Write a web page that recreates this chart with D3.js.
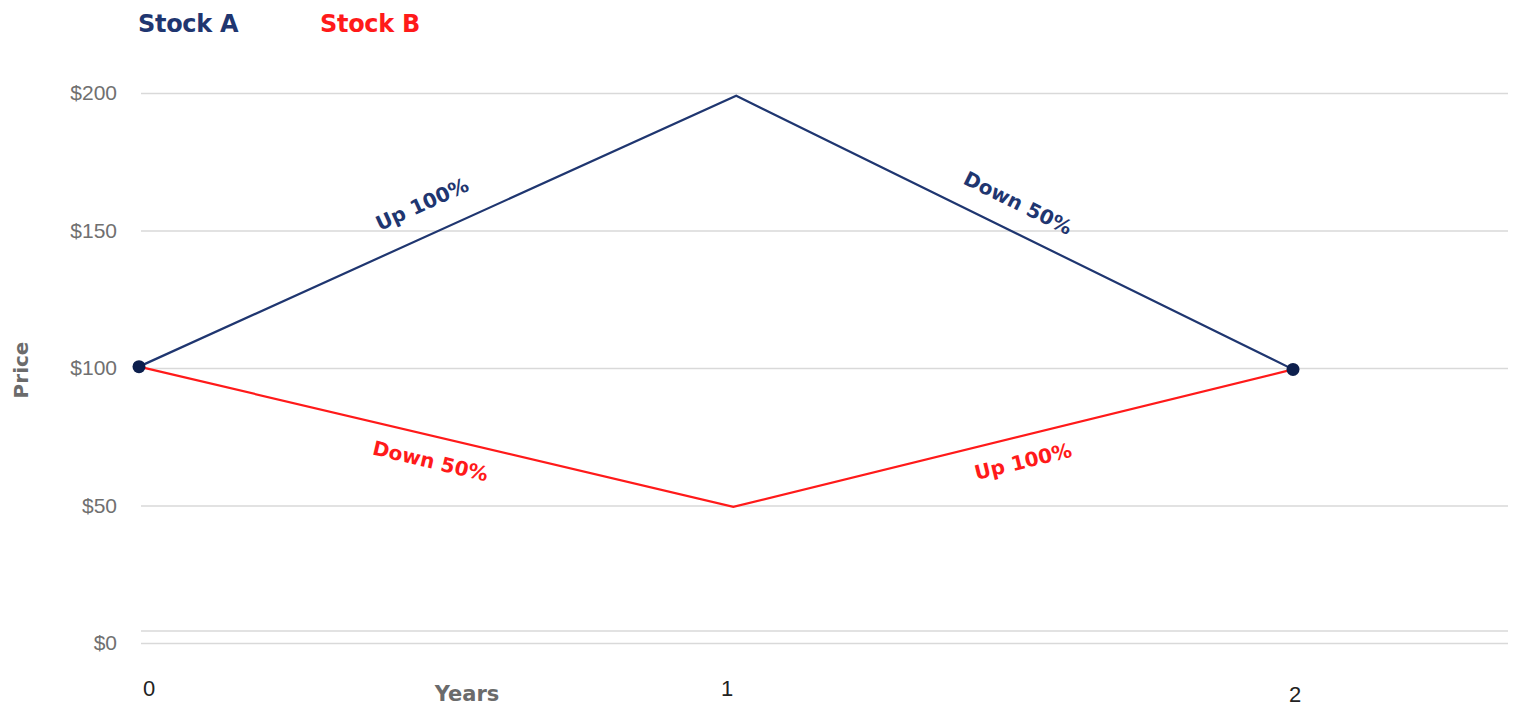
<!DOCTYPE html>
<html>
<head>
<meta charset="utf-8">
<script src="https://cdn.jsdelivr.net/npm/d3@7"></script>
<style>
  body { margin: 0; background: #fff; }
  svg text { font-family: "Liberation Sans", Arial, sans-serif; }
  svg text.bold { font-family: "DejaVu Sans", sans-serif; font-weight: bold; }
</style>
</head>
<body>
<div id="chart"></div>
<script>
// data
const seriesNames = ['Stock A', 'Stock B'];
const yearsA = [0, 1.035, 2];
const priceA = [100.5, 199, 99.5];
const yearsB = [0, 1.03, 2];
const priceB = [100.5, 49.5, 99.5];
const priceTicks = [0, 50, 100, 150, 200];
const yearTicks = [0, 1, 2];
const labelsA = ['Up 100%', 'Down 50%'];
const labelsB = ['Down 50%', 'Up 100%'];

const width = 1517;
const height = 708;
const colorA = '#1f3670';
const colorB = '#ff1a1a';

const svg = d3.select('#chart').append('svg')
  .attr('width', width)
  .attr('height', height);

const x = d3.scaleLinear().domain([0, 2]).range([139, 1293]);
const y = d3.scaleLinear().domain([0, 200]).range([643, 93]);

// gridlines
const grid = svg.append('g')
  .attr('transform', 'translate(141,0)')
  .call(d3.axisLeft(y).tickValues(priceTicks).tickSize(-(1508 - 141)).tickFormat(''));
grid.select('.domain').remove();
grid.selectAll('line').attr('stroke', '#d9d9d9').attr('stroke-width', 1.5);

// extra base line just above $0
svg.append('line')
  .attr('x1', 141).attr('x2', 1508)
  .attr('y1', 631).attr('y2', 631)
  .attr('stroke', '#d9d9d9').attr('stroke-width', 1.5);

// y tick labels
svg.append('g').selectAll('text')
  .data(priceTicks)
  .enter().append('text')
  .attr('x', 117)
  .attr('y', d => y(d))
  .attr('dy', '0.35em')
  .attr('text-anchor', 'end')
  .attr('fill', '#707070')
  .style('font-size', '21px')
  .text(d => '$' + d);

// x tick labels
svg.append('g').selectAll('text')
  .data(yearTicks)
  .enter().append('text')
  .attr('x', (d, i) => x(d) + [10, 11, 2][i])
  .attr('y', (d, i) => i == 2 ? 702 : 696)
  .attr('text-anchor', 'middle')
  .attr('fill', '#222')
  .style('font-size', '22px')
  .text(d => d);

// axis titles
svg.append('text')
  .attr('class', 'bold')
  .attr('transform', 'translate(28,370) rotate(-90)')
  .attr('text-anchor', 'middle')
  .attr('fill', '#6b6b6b')
  .style('font-size', '20px')
  .text('Price');

svg.append('text')
  .attr('class', 'bold')
  .attr('x', 467)
  .attr('y', 701)
  .attr('text-anchor', 'middle')
  .attr('fill', '#6b6b6b')
  .style('font-size', '21px')
  .text('Years');

// legend
svg.append('text')
  .attr('class', 'bold')
  .attr('x', 138).attr('y', 32)
  .attr('fill', colorA)
  .style('font-size', '24px')
  .style('letter-spacing', '-0.3px')
  .text(seriesNames[0]);
svg.append('text')
  .attr('class', 'bold')
  .attr('x', 320).attr('y', 32)
  .attr('fill', colorB)
  .style('font-size', '24px')
  .style('letter-spacing', '-0.3px')
  .text(seriesNames[1]);

const line = d3.line()
  .x(d => x(d[0]))
  .y(d => y(d[1]));

const ptsA = yearsA.map((d, i) => [d, priceA[i]]);
const ptsB = yearsB.map((d, i) => [d, priceB[i]]);

svg.append('path')
  .attr('d', line(ptsB))
  .attr('fill', 'none')
  .attr('stroke', colorB)
  .attr('stroke-width', 2.2);

svg.append('path')
  .attr('d', line(ptsA))
  .attr('fill', 'none')
  .attr('stroke', colorA)
  .attr('stroke-width', 2.2);

// segment labels along the lines, offset [along, across] from the segment middle
function segLabels(pts, labels, color, offset) {
  for (let i = 0; i < pts.length - 1; i++) {
    const x1 = x(pts[i][0]), y1 = y(pts[i][1]);
    const x2 = x(pts[i + 1][0]), y2 = y(pts[i + 1][1]);
    const ang = Math.atan2(y2 - y1, x2 - x1) * 180 / Math.PI;
    const mx = (x1 + x2) / 2, my = (y1 + y2) / 2;
    svg.append('text')
      .attr('class', 'bold')
      .attr('transform', 'translate(' + mx + ',' + my + ') rotate(' + ang + ')')
      .attr('x', offset[i][0])
      .attr('y', offset[i][1])
      .attr('dy', '0.35em')
      .attr('text-anchor', 'middle')
      .attr('fill', color)
      .style('font-size', '20px')
      .text(labels[i]);
  }
}
segLabels(ptsA, labelsA, colorA, [[-3, -31], [-10, -28]]);
segLabels(ptsB, labelsB, colorB, [[0, 25], [4, 25]]);

// end markers
svg.append('g').selectAll('circle')
  .data([ptsA[0], ptsA[2]])
  .enter().append('circle')
  .attr('cx', d => x(d[0]))
  .attr('cy', d => y(d[1]))
  .attr('r', 6.5)
  .attr('fill', '#0d1f4d');
</script>
</body>
</html>
